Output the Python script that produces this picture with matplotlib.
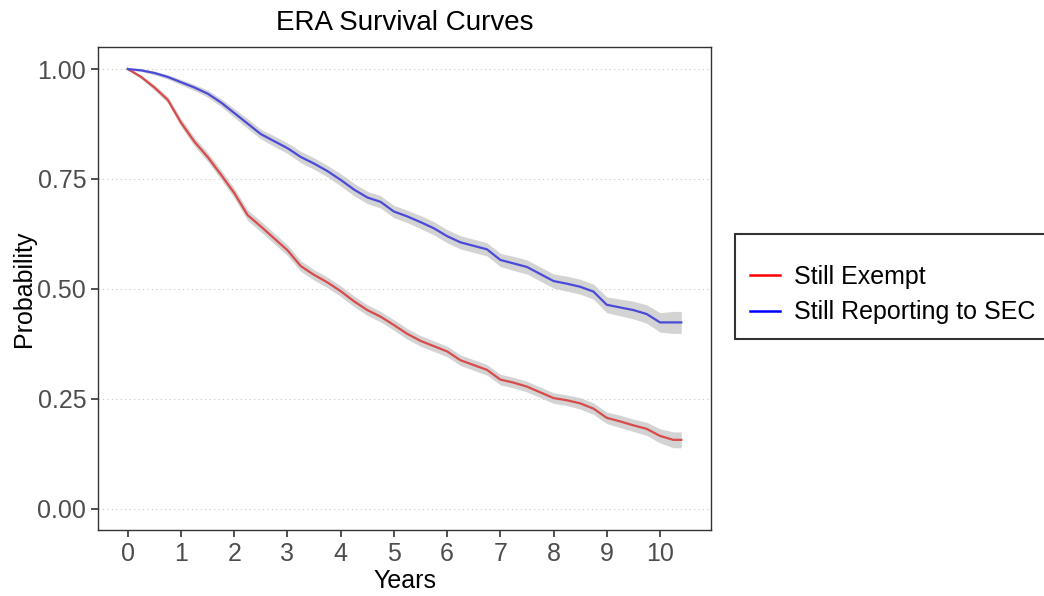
import numpy as np
import matplotlib
matplotlib.use("Agg")
import matplotlib.pyplot as plt
from matplotlib.lines import Line2D

plt.rcParams['font.family'] = ['Liberation Sans', 'DejaVu Sans']

# time grid (years) and survival estimates
years = [0, 0.25, 0.5, 0.75, 1.0, 1.25, 1.5, 1.75, 2.0, 2.25, 2.5, 2.75,
         3.0, 3.25, 3.5, 3.75, 4.0, 4.25, 4.5, 4.75, 5.0, 5.25, 5.5, 5.75,
         6.0, 6.25, 6.5, 6.75, 7.0, 7.25, 7.5, 7.75, 8.0, 8.25, 8.5, 8.75,
         9.0, 9.25, 9.5, 9.75, 10.0, 10.25, 10.4]

exempt = [1.000, 0.982, 0.958, 0.930, 0.878, 0.835, 0.800, 0.760, 0.718,
          0.668, 0.642, 0.615, 0.588, 0.552, 0.532, 0.515, 0.495, 0.472,
          0.452, 0.437, 0.418, 0.398, 0.382, 0.370, 0.358, 0.338, 0.327,
          0.316, 0.294, 0.287, 0.278, 0.265, 0.252, 0.247, 0.240, 0.228,
          0.207, 0.199, 0.190, 0.182, 0.166, 0.157, 0.157]

reporting = [1.000, 0.997, 0.991, 0.982, 0.970, 0.958, 0.944, 0.924, 0.900,
             0.876, 0.852, 0.836, 0.820, 0.800, 0.785, 0.768, 0.748, 0.726,
             0.708, 0.698, 0.676, 0.665, 0.652, 0.638, 0.620, 0.606, 0.598,
             0.590, 0.566, 0.558, 0.550, 0.534, 0.518, 0.512, 0.505, 0.494,
             0.464, 0.458, 0.452, 0.443, 0.424, 0.424, 0.424]

# half-width of the confidence bands
exempt_ci = [0.002, 0.004, 0.006, 0.007, 0.009, 0.010, 0.010, 0.011, 0.011,
             0.012, 0.012, 0.012, 0.012, 0.012, 0.012, 0.012, 0.012, 0.012,
             0.012, 0.012, 0.012, 0.012, 0.012, 0.012, 0.012, 0.012, 0.012,
             0.012, 0.012, 0.012, 0.012, 0.012, 0.012, 0.012, 0.013, 0.013,
             0.013, 0.014, 0.014, 0.015, 0.016, 0.018, 0.018]

reporting_ci = [0.002, 0.003, 0.004, 0.005, 0.006, 0.007, 0.008, 0.009, 0.010,
                0.011, 0.011, 0.012, 0.012, 0.013, 0.013, 0.013, 0.014, 0.014,
                0.014, 0.014, 0.014, 0.014, 0.015, 0.015, 0.015, 0.015, 0.015,
                0.015, 0.015, 0.016, 0.016, 0.016, 0.016, 0.017, 0.017, 0.017,
                0.018, 0.019, 0.020, 0.021, 0.022, 0.025, 0.025]

labels = ['Still Exempt', 'Still Reporting to SEC']
line_colors = ['#d94a4a', '#4a4ad9']
legend_colors = ['#ff0000', '#0000ff']

fig = plt.figure(figsize=(10.44, 5.96), dpi=100)
ax = fig.add_axes([0.0939, 0.1107, 0.5872, 0.8104])

t = np.array(years)
for surv, ci, col in [(exempt, exempt_ci, line_colors[0]),
                      (reporting, reporting_ci, line_colors[1])]:
    s = np.array(surv)
    c = np.array(ci)
    ax.fill_between(t, s - c, s + c, color='#d3d3d3', lw=0)
    ax.plot(t, s, color=col, lw=1.6)

ax.set_xlim(-0.56, 10.96)
ax.set_ylim(-0.048, 1.05)
ax.set_xticks(range(0, 11))
ax.set_yticks([0, 0.25, 0.5, 0.75, 1.0])
ax.set_yticklabels(['0.00', '0.25', '0.50', '0.75', '1.00'])
ax.tick_params(labelsize=18, colors='#333333', labelcolor='#4d4d4d',
               length=5, width=1.2)
ax.grid(axis='y', linestyle=(0, (1, 3)), color='#c8c8c8', lw=0.8)
for sp in ax.spines.values():
    sp.set_color('#333333')
    sp.set_linewidth(1.0)

ax.set_xlabel('Years', fontsize=18, labelpad=2)
ax.set_ylabel('Probability', fontsize=18, labelpad=1)
ax.set_title('ERA Survival Curves', fontsize=20, pad=12)

handles = [Line2D([], [], color=c, lw=1.8) for c in legend_colors]
leg = fig.legend(handles, labels, loc='upper left',
                 bbox_to_anchor=(735 / 1044, 1 - 234 / 596),
                 fontsize=18, title=' ', title_fontsize=4,
                 frameon=True, fancybox=False, edgecolor='black',
                 handlelength=1.2, handletextpad=0.55, labelspacing=0.45,
                 borderpad=0.6, borderaxespad=0)
leg.get_frame().set_linewidth(1.5)

fig.savefig('out.png', dpi=100)
